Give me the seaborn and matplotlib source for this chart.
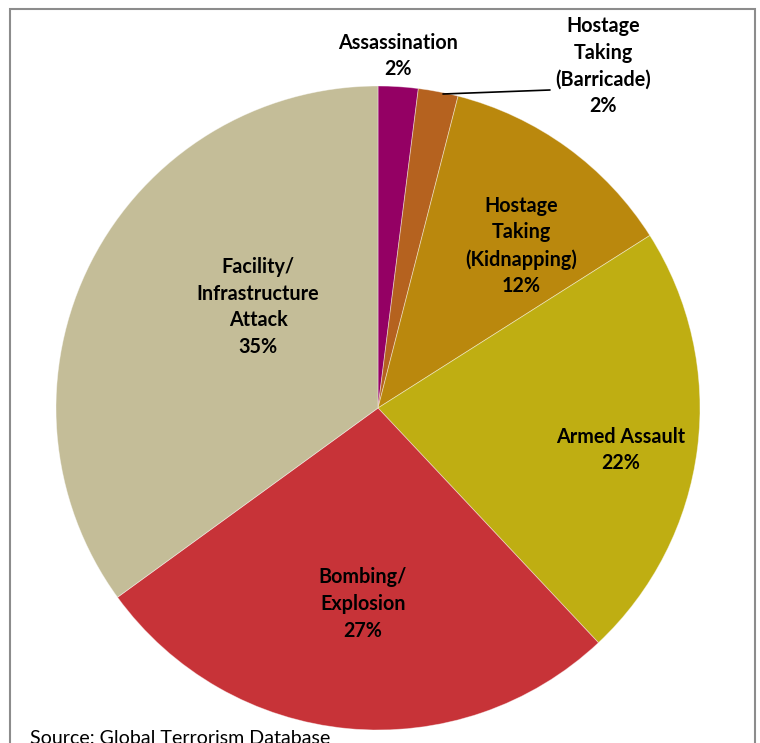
import matplotlib
matplotlib.use("Agg")
import matplotlib.pyplot as plt
import seaborn as sns
from matplotlib.patches import Rectangle

# Attack types and their share of incidents (percent)
attack_types = [
    "Assassination",
    "Hostage\nTaking\n(Barricade)",
    "Hostage\nTaking\n(Kidnapping)",
    "Armed Assault",
    "Bombing/\nExplosion",
    "Facility/\nInfrastructure\nAttack",
]
shares = [2, 2, 12, 22, 27, 35]
slice_colors = ["#940064", "#B5621F", "#BA880D", "#BFAE12", "#C73338", "#C4BD98"]
source_note = "Source: Global Terrorism Database"

sns.set_theme(style="white")
plt.rcParams["font.family"] = ["Lato", "DejaVu Sans"]

W, H = 760, 743
fig = plt.figure(figsize=(W / 100, H / 100), dpi=100)
ax = fig.add_axes([0, 0, 1, 1])


def py(y):
    """Convert a top-down pixel row into axis units."""
    return H - y


cx, cy, r = 378, py(408), 322
wedges, _ = ax.pie(
    shares,
    colors=sns.color_palette(slice_colors),
    startangle=90,
    counterclock=False,
    center=(cx, cy),
    radius=r,
    wedgeprops=dict(edgecolor=(1, 1, 1, 0.45), linewidth=0.6),
)
ax.set_xlim(0, W)
ax.set_ylim(0, H)
ax.set_aspect("equal")
ax.axis("off")

# Label anchors (centre of each text block)
label_pos = [
    (398, 56),
    (603, 66),
    (521, 246),
    (621, 450),
    (363, 604),
    (258, 307),
]
for name, val, (x, y) in zip(attack_types, shares, label_pos):
    ax.text(x, py(y), f"{name}\n{val}%", ha="center", va="center",
            fontsize=14.2, fontweight="bold", color="black", linespacing=1.42)

# Leader line for the small barricade slice
ax.plot([443, 550], [py(94), py(90)], color="black", lw=1.2)

# Outer chart frame (open at the bottom edge)
ax.add_patch(Rectangle((10, py(780)), 745, 780 - 9, fill=False,
                       edgecolor="#8c8c8c", lw=1.5, clip_on=True))

ax.text(30, py(744), source_note, ha="left", va="baseline",
        fontsize=14.1, color="black")

fig.savefig("out.png", dpi=100)
